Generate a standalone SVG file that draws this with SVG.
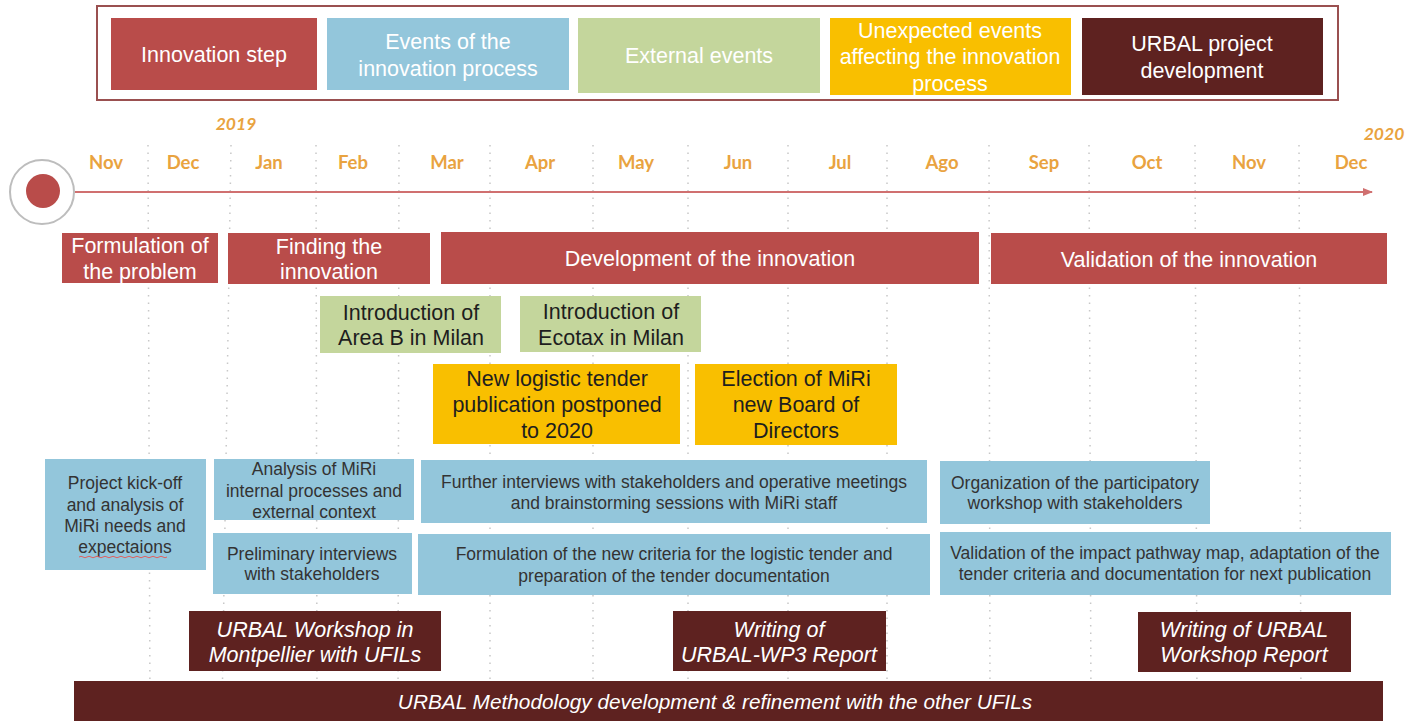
<svg xmlns="http://www.w3.org/2000/svg" width="1422" height="721" viewBox="0 0 1422 721">
<style>
  .t { font-family: "Liberation Sans", Arial, sans-serif; text-anchor: middle; }
  .big { font-size: 21.5px; }
  .sm { font-size: 17.5px; fill: #333; }
  .w { fill: #fff; }
  .d { fill: #1e1e1e; }
  .it { font-style: italic; }
  .mon { font-family: Lato, "DejaVu Sans", sans-serif; font-weight: bold; font-size: 18.5px; fill: #E9A340; text-anchor: middle; }
  .yr { font-family: Lato, "DejaVu Sans", sans-serif; font-weight: bold; font-style: italic; font-size: 17.5px; fill: #E9A340; text-anchor: middle; }
  .red { fill: #B94C4A; }
  .blue { fill: #93C6DB; }
  .green { fill: #C4D69C; }
  .yel { fill: #F9BF00; }
  .dark { fill: #5E2220; }
  .grid line { stroke: #c8c8c8; stroke-width: 1.5; stroke-dasharray: 1.5 6; }
</style>
<defs>
  <marker id="ah" markerWidth="10" markerHeight="8" refX="9" refY="4" orient="auto" markerUnits="userSpaceOnUse">
    <path d="M0,0 L10,4 L0,8 Z" fill="#D07070"/>
  </marker>
</defs>
<rect width="1422" height="721" fill="#fff"/>

<g id="grid" class="grid">
  <line x1="148" y1="145" x2="150" y2="712"/>
  <line x1="231" y1="145" x2="222" y2="712"/>
  <line x1="316" y1="145" x2="317" y2="712"/>
  <line x1="399" y1="145" x2="398" y2="712"/>
  <line x1="490" y1="145" x2="490" y2="712"/>
  <line x1="593" y1="145" x2="593" y2="712"/>
  <line x1="688" y1="145" x2="688" y2="712"/>
  <line x1="788" y1="145" x2="788" y2="712"/>
  <line x1="887" y1="145" x2="887" y2="712"/>
  <line x1="989" y1="145" x2="990" y2="712"/>
  <line x1="1089" y1="145" x2="1091" y2="712"/>
  <line x1="1195" y1="145" x2="1197" y2="712"/>
  <line x1="1299" y1="145" x2="1301" y2="712"/>
</g>

<g id="legend">
  <rect x="97" y="6" width="1241" height="94" fill="none" stroke="#9A5050" stroke-width="2"/>
  <g id="leg-innovation-step">
    <rect x="111" y="18" width="206" height="72" class="red"/>
    <text class="t big w" x="214" y="62">Innovation step</text>
  </g>
  <g id="leg-events">
    <rect x="327" y="18" width="242" height="72" class="blue"/>
    <text class="t big w" x="448" y="49">Events of the</text>
    <text class="t big w" x="448" y="76">innovation process</text>
  </g>
  <g id="leg-external">
    <rect x="578" y="18" width="242" height="75" class="green"/>
    <text class="t big w" x="699" y="63">External events</text>
  </g>
  <g id="leg-unexpected">
    <rect x="830" y="18" width="241" height="77" class="yel"/>
    <text class="t big w" x="950" y="38">Unexpected events</text>
    <text class="t big w" x="950" y="64">affecting the innovation</text>
    <text class="t big w" x="950" y="91">process</text>
  </g>
  <g id="leg-urbal">
    <rect x="1082" y="18" width="241" height="77" class="dark"/>
    <text class="t big w" x="1202" y="51">URBAL project</text>
    <text class="t big w" x="1202" y="78">development</text>
  </g>
</g>

<g id="timeline">
  <text class="yr" x="236" y="130">2019</text>
  <text class="yr" x="1384" y="140">2020</text>
  <text class="mon" x="106" y="169">Nov</text>
  <text class="mon" x="183" y="169">Dec</text>
  <text class="mon" x="269" y="169">Jan</text>
  <text class="mon" x="353" y="169">Feb</text>
  <text class="mon" x="447" y="169">Mar</text>
  <text class="mon" x="540" y="169">Apr</text>
  <text class="mon" x="636" y="169">May</text>
  <text class="mon" x="738" y="169">Jun</text>
  <text class="mon" x="840" y="169">Jul</text>
  <text class="mon" x="942" y="169">Ago</text>
  <text class="mon" x="1044" y="169">Sep</text>
  <text class="mon" x="1147" y="169">Oct</text>
  <text class="mon" x="1249" y="169">Nov</text>
  <text class="mon" x="1351" y="169">Dec</text>
  <circle cx="42" cy="192" r="32" fill="#fff" stroke="#bdbdbd" stroke-width="2"/>
  <circle cx="43" cy="191" r="17" fill="#B94C4A"/>
</g>

<g id="connectors">
  <line x1="75" y1="192" x2="1372" y2="192" stroke="#D07070" stroke-width="2" marker-end="url(#ah)"/>
</g>

<g id="step-formulation">
  <rect x="62" y="233" width="156" height="50" class="red"/>
  <text class="t big w" x="140" y="253">Formulation of</text>
  <text class="t big w" x="140" y="279">the problem</text>
</g>
<g id="step-finding">
  <rect x="228" y="233" width="202" height="51" class="red"/>
  <text class="t big w" x="329" y="254">Finding the</text>
  <text class="t big w" x="329" y="279">innovation</text>
</g>
<g id="step-development">
  <rect x="441" y="232" width="538" height="52" class="red"/>
  <text class="t big w" x="710" y="266">Development of the innovation</text>
</g>
<g id="step-validation">
  <rect x="991" y="233" width="396" height="51" class="red"/>
  <text class="t big w" x="1189" y="267">Validation of the innovation</text>
</g>

<g id="ext-areab">
  <rect x="320" y="296" width="181" height="57" class="green"/>
  <text class="t big d" x="411" y="320">Introduction of</text>
  <text class="t big d" x="411" y="345">Area B in Milan</text>
</g>
<g id="ext-ecotax">
  <rect x="520" y="296" width="181" height="56" class="green"/>
  <text class="t big d" x="611" y="319">Introduction of</text>
  <text class="t big d" x="611" y="345">Ecotax in Milan</text>
</g>

<g id="unexp-tender">
  <rect x="433" y="364" width="247" height="80" class="yel"/>
  <text class="t big d" x="557" y="386">New logistic tender</text>
  <text class="t big d" x="557" y="412">publication postponed</text>
  <text class="t big d" x="557" y="438">to 2020</text>
</g>
<g id="unexp-election">
  <rect x="695" y="364" width="202" height="81" class="yel"/>
  <text class="t big d" x="796" y="386">Election of MiRi</text>
  <text class="t big d" x="796" y="412">new Board of</text>
  <text class="t big d" x="796" y="438">Directors</text>
</g>

<g id="ev-kickoff">
  <rect x="45" y="459" width="161" height="111" class="blue"/>
  <text class="t sm" x="125" y="489">Project kick-off</text>
  <text class="t sm" x="125" y="511">and analysis of</text>
  <text class="t sm" x="125" y="532">MiRi needs and</text>
  <text class="t sm" x="125" y="553">expectaions</text>
  <path d="M79,557 q2,-1.5 4,0 t4,0 t4,0 t4,0 t4,0 t4,0 t4,0 t4,0 t4,0 t4,0 t4,0 t4,0 t4,0 t4,0 t4,0 t4,0 t4,0 t4,0 t4,0 t4,0 t4,0 t4,0" fill="none" stroke="#E06060" stroke-width="1"/>
</g>
<g id="ev-analysis">
  <rect x="214" y="459" width="200" height="61" class="blue"/>
  <text class="t sm" x="314" y="475">Analysis of MiRi</text>
  <text class="t sm" x="314" y="497">internal processes and</text>
  <text class="t sm" x="314" y="518">external context</text>
</g>
<g id="ev-preliminary">
  <rect x="213" y="533" width="199" height="61" class="blue"/>
  <text class="t sm" x="312" y="560">Preliminary interviews</text>
  <text class="t sm" x="312" y="580">with stakeholders</text>
</g>
<g id="ev-further">
  <rect x="421" y="460" width="506" height="63" class="blue"/>
  <text class="t sm" x="674" y="488">Further interviews with stakeholders and operative meetings</text>
  <text class="t sm" x="674" y="509">and brainstorming sessions with MiRi staff</text>
</g>
<g id="ev-criteria">
  <rect x="418" y="534" width="512" height="61" class="blue"/>
  <text class="t sm" x="674" y="560">Formulation of the new criteria for the logistic tender and</text>
  <text class="t sm" x="674" y="582">preparation of the tender documentation</text>
</g>
<g id="ev-organization">
  <rect x="940" y="461" width="270" height="63" class="blue"/>
  <text class="t sm" x="1075" y="489">Organization of the participatory</text>
  <text class="t sm" x="1075" y="509">workshop with stakeholders</text>
</g>
<g id="ev-validation">
  <rect x="940" y="532" width="451" height="63" class="blue"/>
  <text class="t sm" x="1165" y="559">Validation of the impact pathway map, adaptation of the</text>
  <text class="t sm" x="1165" y="580">tender criteria and documentation for next publication</text>
</g>

<g id="urbal-montpellier">
  <rect x="189" y="611" width="252" height="60" class="dark"/>
  <text class="t big w it" x="315" y="637">URBAL Workshop in</text>
  <text class="t big w it" x="315" y="662">Montpellier with UFILs</text>
</g>
<g id="urbal-wp3">
  <rect x="673" y="611" width="213" height="60" class="dark"/>
  <text class="t big w it" x="779" y="637">Writing of</text>
  <text class="t big w it" x="779" y="662">URBAL-WP3 Report</text>
</g>
<g id="urbal-workshop-report">
  <rect x="1138" y="612" width="213" height="60" class="dark"/>
  <text class="t big w it" x="1244" y="637">Writing of URBAL</text>
  <text class="t big w it" x="1244" y="662">Workshop Report</text>
</g>
<g id="urbal-methodology">
  <rect x="74" y="681" width="1309" height="40" class="dark"/>
  <text class="t w it" style="font-size:20.8px" x="715" y="709">URBAL Methodology development &amp; refinement with the other UFILs</text>
</g>
</svg>
